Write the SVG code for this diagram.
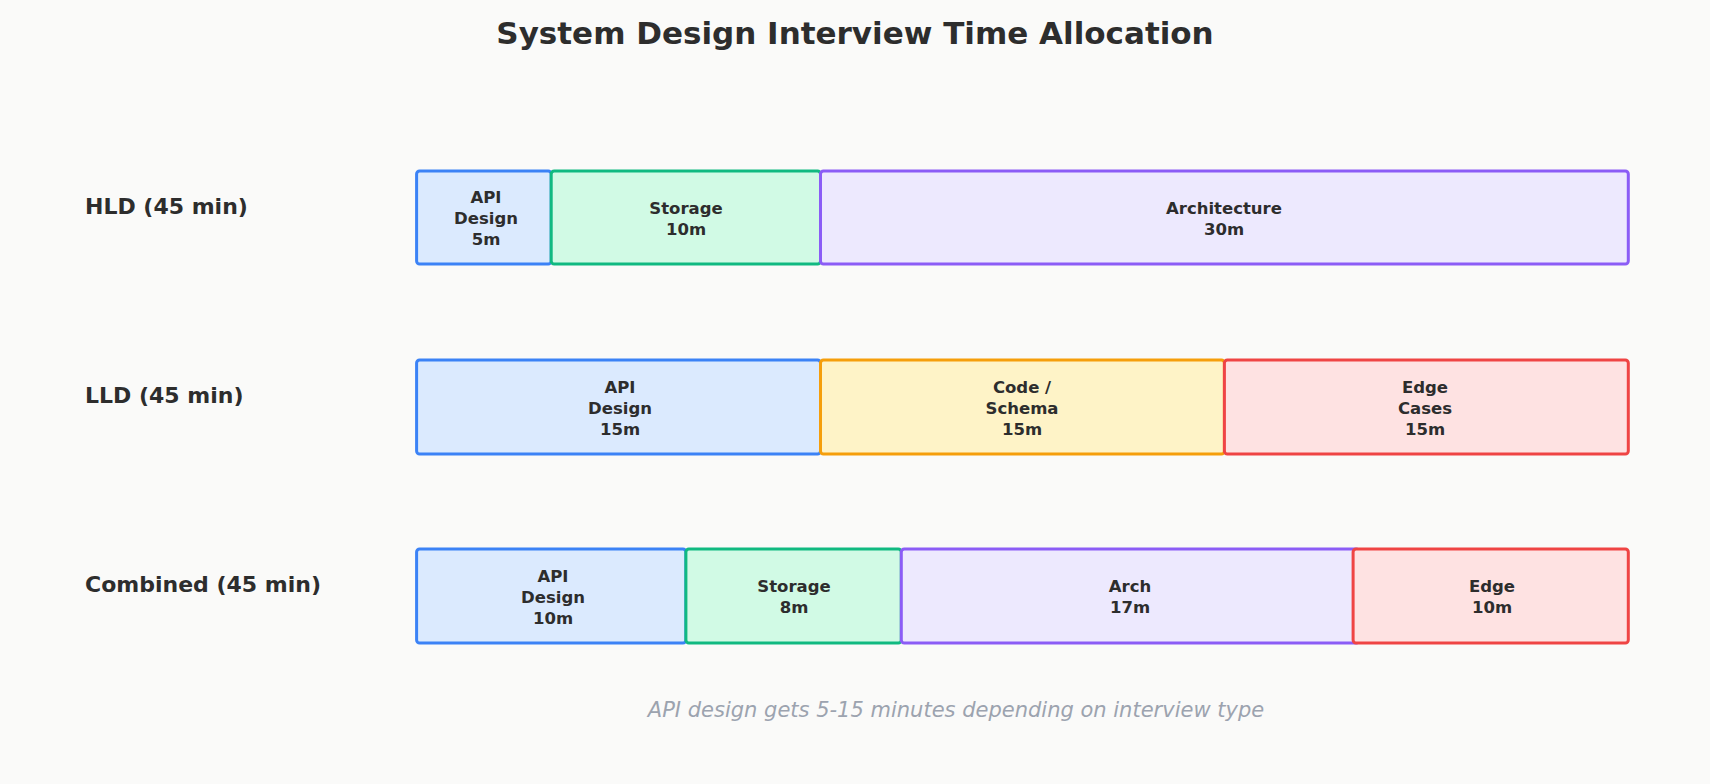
<svg xmlns="http://www.w3.org/2000/svg" width="1710" height="784" viewBox="0 0 1710 784">
<style>
text{font-family:"DejaVu Sans","Noto Sans",sans-serif;fill:#2d2d2d}
.t{font-size:31px;font-weight:bold;text-anchor:middle}
.r{font-size:22px;font-weight:bold}
.b{font-size:16.5px;font-weight:bold;text-anchor:middle}
.f{font-size:21px;font-style:italic;fill:#9ca3af;text-anchor:middle}
rect{stroke-width:3}
.bl{fill:#dbeafe;stroke:#3b82f6}.gr{fill:#d1fae5;stroke:#10b981}.pu{fill:#ede9fe;stroke:#8b5cf6}.ye{fill:#fef3c7;stroke:#f59e0b}.re{fill:#fee2e2;stroke:#ef4444}
</style>
<rect width="1710" height="784" fill="#fafaf9" stroke="none"/>
<text class="t" x="855" y="44">System Design Interview Time Allocation</text>
<g id="labels">
<text class="r" x="85" y="214">HLD (45 min)</text>
<text class="r" x="85" y="403">LLD (45 min)</text>
<text class="r" x="85" y="592">Combined (45 min)</text>
</g>
<g id="connectors"></g>
<g id="hld-api"><rect class="bl" x="416.6" y="171" width="134.6" height="93" rx="3"/><text class="b" x="486" y="203">API</text><text class="b" x="486" y="224">Design</text><text class="b" x="486" y="245">5m</text></g>
<g id="hld-storage"><rect class="gr" x="551.2" y="171" width="269.3" height="93" rx="3"/><text class="b" x="686" y="214">Storage</text><text class="b" x="686" y="235">10m</text></g>
<g id="hld-arch"><rect class="pu" x="820.5" y="171" width="807.8" height="93" rx="3"/><text class="b" x="1224" y="214">Architecture</text><text class="b" x="1224" y="235">30m</text></g>
<g id="lld-api"><rect class="bl" x="416.6" y="360" width="403.9" height="94" rx="3"/><text class="b" x="620" y="393">API</text><text class="b" x="620" y="414">Design</text><text class="b" x="620" y="435">15m</text></g>
<g id="lld-code"><rect class="ye" x="820.5" y="360" width="403.9" height="94" rx="3"/><text class="b" x="1022" y="393">Code /</text><text class="b" x="1022" y="414">Schema</text><text class="b" x="1022" y="435">15m</text></g>
<g id="lld-edge"><rect class="re" x="1224.4" y="360" width="403.9" height="94" rx="3"/><text class="b" x="1425" y="393">Edge</text><text class="b" x="1425" y="414">Cases</text><text class="b" x="1425" y="435">15m</text></g>
<g id="c-api"><rect class="bl" x="416.6" y="549" width="269.3" height="94" rx="3"/><text class="b" x="553" y="582">API</text><text class="b" x="553" y="603">Design</text><text class="b" x="553" y="624">10m</text></g>
<g id="c-storage"><rect class="gr" x="685.9" y="549" width="215.4" height="94" rx="3"/><text class="b" x="794" y="592">Storage</text><text class="b" x="794" y="613">8m</text></g>
<g id="c-arch"><rect class="pu" x="901.3" y="549" width="457.8" height="94" rx="3"/><text class="b" x="1130" y="592">Arch</text><text class="b" x="1130" y="613">17m</text></g>
<g id="c-edge"><rect class="re" x="1353.1" y="549" width="275.2" height="94" rx="3"/><text class="b" x="1492" y="592">Edge</text><text class="b" x="1492" y="613">10m</text></g>
<text class="f" x="956" y="717">API design gets 5-15 minutes depending on interview type</text>
</svg>
